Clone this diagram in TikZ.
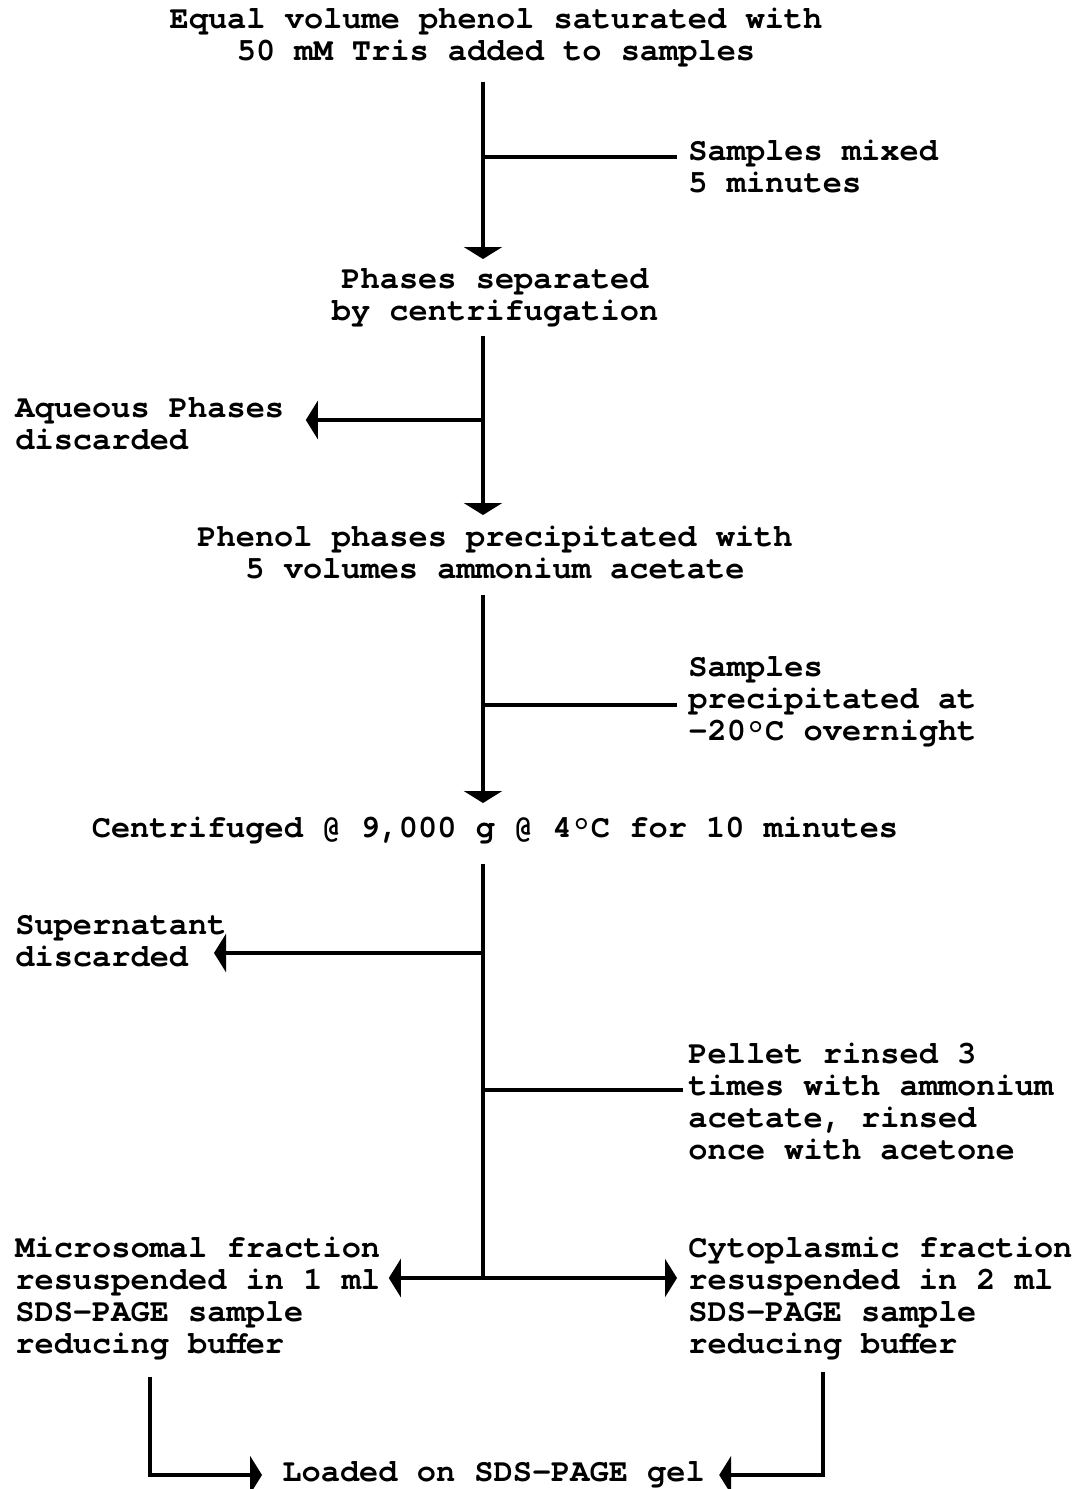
\documentclass[tikz,border=0pt]{standalone}
\usepackage{fontspec}
\setmonofont{texgyrecursor}[Extension=.otf, UprightFont=*-regular, BoldFont=*-bold]
\usetikzlibrary{arrows.meta}
\tikzset{
  txt/.style={font=\fontsize{16}{16}\selectfont\ttfamily\bfseries, inner sep=0pt},
  ln/.style={line width=2pt},
  arr/.style={ln,-{Triangle[width=19pt,length=6pt]}},
  darr/.style={ln,{Triangle[width=19pt,length=6pt]}-{Triangle[width=19pt,length=6pt]}},
}
\begin{document}
\begin{tikzpicture}[x=0.5pt,y=-0.5pt]
\useasboundingbox[fill=white] (0,0) rectangle (1081,1489);
% text nodes
\node[txt,align=center,anchor=north] (t1) at (496,5.6) {\strut Equal volume phenol saturated with\\\strut 50 mM Tris added to samples};
\node[txt,align=center,anchor=north] (t2) at (495,265.6) {\strut Phases separated\\\strut by centrifugation};
\node[txt,align=center,anchor=north] (t3) at (495,523.6) {\strut Phenol phases precipitated with\\\strut 5 volumes ammonium acetate};
\node[txt,anchor=north] (t4) at (495,814.6) {\strut Centrifuged @ 9,000 g @ 4°C for 10 minutes};
\node[txt,align=left,anchor=north west] (s1) at (688,137.6) {\strut Samples mixed\\\strut 5 minutes};
\node[txt,align=left,anchor=north west] (a1) at (15,394.6) {\strut Aqueous Phases\\\strut discarded};
\node[txt,align=left,anchor=north west] (s2) at (688,653.6) {\strut Samples\\\strut precipitated at\\\strut -20°C overnight};
\node[txt,align=left,anchor=north west] (sup) at (15,911.6) {\strut Supernatant\\\strut discarded};
\node[txt,align=left,anchor=north west] (pel) at (688,1040.6) {\strut Pellet rinsed 3\\\strut times with ammonium\\\strut acetate, rinsed\\\strut once with acetone};
\node[txt,align=left,anchor=north west] (mic) at (15,1234.6) {\strut Microsomal fraction\\\strut resuspended in 1 ml\\\strut SDS-PAGE sample\\\strut reducing buffer};
\node[txt,align=left,anchor=north west] (cyt) at (688,1234.6) {\strut Cytoplasmic fraction\\\strut resuspended in 2 ml\\\strut SDS-PAGE sample\\\strut reducing buffer};
\node[txt,anchor=north west] (t5) at (282,1458.6) {\strut Loaded on SDS-PAGE gel};
% coordinates
\coordinate (sp) at (483,0);
\coordinate (lx) at (150,0);
\coordinate (rx) at (823,0);
\coordinate (j1) at (483,157);
\coordinate (j2) at (483,420);
\coordinate (j3) at (483,705);
\coordinate (j4) at (483,953);
\coordinate (j5) at (483,1090);
\coordinate (jb) at (483,1278);
% connectors
\draw[arr,shorten <=5.7pt,shorten >=3.3pt] (t1.south -| sp) -- (t2.north -| sp);
\draw[ln,shorten >=5.5pt] (j1) -- (j1 -| s1.west);
\draw[arr,shorten <=2.7pt,shorten >=4.3pt] (t2.south -| sp) -- (t3.north -| sp);
\draw[arr,shorten >=10.6pt] (j2) -- (j2 -| a1.east);
\draw[arr,shorten <=3.2pt,shorten >=5.8pt] (t3.south -| sp) -- (t4.north -| sp);
\draw[ln,shorten >=5.5pt] (j3) -- (j3 -| s2.west);
\draw[ln,shorten <=8.2pt] (t4.south -| sp) -- (jb);
\draw[arr,shorten >=-6.5pt] (j4) -- (j4 -| sup.east);
\draw[ln,shorten >=2.5pt] (j5) -- (j5 -| pel.west);
\draw[darr,shorten <=4.1pt,shorten >=5.5pt] (mic.east |- jb) -- (cyt.west |- jb);
\draw[arr,shorten <=6.7pt,shorten >=10pt] (mic.south -| lx) |- (t5.west);
\draw[arr,shorten <=4.2pt,shorten >=7pt] (cyt.south -| rx) |- (t5.east);
\end{tikzpicture}
\end{document}
